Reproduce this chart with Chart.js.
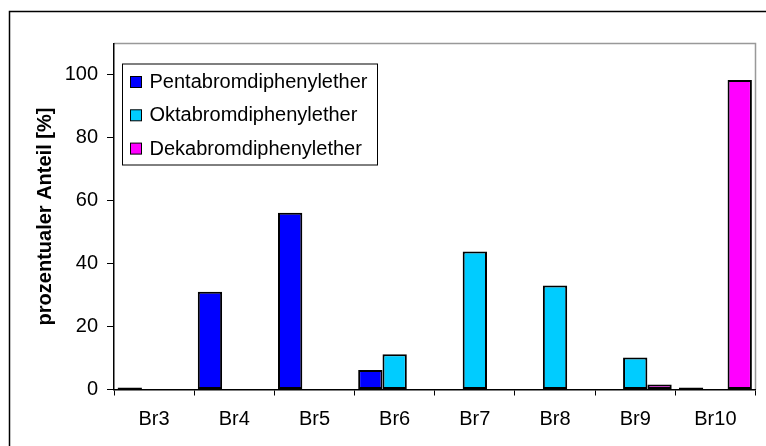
<!DOCTYPE html>
<html>
<head>
<meta charset="utf-8">
<script src="https://cdn.jsdelivr.net/npm/chart.js@4/dist/chart.umd.min.js"></script>
<style>
    body { margin: 0; background: #fff; }
    canvas { display: block; }
</style>
</head>
<body>
<canvas id="bromChart" width="766" height="446"></canvas>
<script>
const categories = ['Br3', 'Br4', 'Br5', 'Br6', 'Br7', 'Br8', 'Br9', 'Br10'];
const pentaValues = [0.6, 31.1, 56.2, 6.2, null, null, null, 0.6];
const oktaValues = [null, null, null, 11.2, 43.9, 33.1, 10.2, null];
const dekaValues = [null, null, null, null, null, null, 1.6, 98.4];
const seriesNames = ['Pentabromdiphenylether', 'Oktabromdiphenylether', 'Dekabromdiphenylether'];
const yTicks = [0, 20, 40, 60, 80, 100];

const fontFamily = 'Arial, "Liberation Sans", sans-serif';

// frame around the whole picture + grey frame around plot area
const framePlugin = {
    id: 'frame',
    beforeDraw(chart) {
        const c = chart.ctx;
        c.save();
        c.strokeStyle = '#000';
        c.lineWidth = 1.5;
        c.strokeRect(9.5, 11.5, 800, 500);
        const a = chart.chartArea;
        c.strokeStyle = '#999';
        c.lineWidth = 1.5;
        c.beginPath();
        c.moveTo(a.left, a.top);
        c.lineTo(a.right, a.top);
        c.lineTo(a.right, a.bottom);
        c.stroke();
        c.restore();
    }
};

// boxed legend inside the plot area
const boxLegend = {
    id: 'boxLegend',
    afterDraw(chart) {
        const c = chart.ctx;
        const a = chart.chartArea;
        const x = a.left + 8.5;
        const y = a.top + 20.5;
        c.save();
        c.fillStyle = '#fff';
        c.fillRect(x, y, 255, 101);
        c.strokeStyle = '#000';
        c.lineWidth = 1;
        c.strokeRect(x, y, 255, 101);
        c.font = '20px ' + fontFamily;
        c.textBaseline = 'middle';
        chart.data.datasets.forEach((ds, i) => {
            const cy = y + 17.5 + i * 33.3;
            c.fillStyle = ds.backgroundColor;
            c.fillRect(x + 8, cy - 5, 11, 11);
            c.strokeStyle = '#000';
            c.strokeRect(x + 8, cy - 5, 11, 11);
            c.fillStyle = '#000';
            c.fillText(ds.label, x + 27, cy + 1);
        });
        c.restore();
    }
};

const ctx = document.getElementById('bromChart').getContext('2d');
const bromChart = new Chart(ctx, {
    type: 'bar',
    data: {
        labels: categories,
        datasets: [{
            label: seriesNames[0],
            data: pentaValues,
            backgroundColor: '#0000ff',
            borderColor: '#000',
            borderWidth: 2,
            borderSkipped: false
        }, {
            label: seriesNames[1],
            data: oktaValues,
            backgroundColor: '#00ccff',
            borderColor: '#000',
            borderWidth: 2,
            borderSkipped: false
        }, {
            label: seriesNames[2],
            data: dekaValues,
            backgroundColor: '#ff00ff',
            borderColor: '#000',
            borderWidth: 2,
            borderSkipped: false
        }]
    },
    options: {
        responsive: false,
        animation: false,
        categoryPercentage: 0.91,
        barPercentage: 1.0,
        layout: {
            padding: { left: 0, top: 43.5, right: 10.5, bottom: 0 }
        },
        plugins: {
            legend: { display: false },
            tooltip: { enabled: false }
        },
        scales: {
            x: {
                afterFit: (scale) => { scale.height = 56.5; },
                grid: {
                    offset: true,
                    drawOnChartArea: false,
                    drawTicks: true,
                    tickLength: 6,
                    color: '#000'
                },
                border: { color: '#000', width: 1.5 },
                ticks: {
                    color: '#000',
                    padding: 12,
                    font: { family: fontFamily, size: 20 }
                }
            },
            y: {
                min: 0,
                max: 110,
                afterFit: (scale) => { scale.width = 114; },
                afterBuildTicks: (scale) => {
                    scale.ticks = yTicks.map(v => ({ value: v }));
                },
                grid: {
                    drawOnChartArea: false,
                    drawTicks: true,
                    tickLength: 7,
                    color: '#000'
                },
                border: { color: '#000', width: 1.5 },
                ticks: {
                    color: '#000',
                    padding: 9,
                    font: { family: fontFamily, size: 20 }
                },
                title: {
                    display: true,
                    text: 'prozentualer Anteil [%]',
                    color: '#000',
                    padding: { top: 33, bottom: 0 },
                    font: { family: fontFamily, size: 20, weight: 'bold' }
                }
            }
        }
    },
    plugins: [framePlugin, boxLegend]
});
</script>
</body>
</html>
